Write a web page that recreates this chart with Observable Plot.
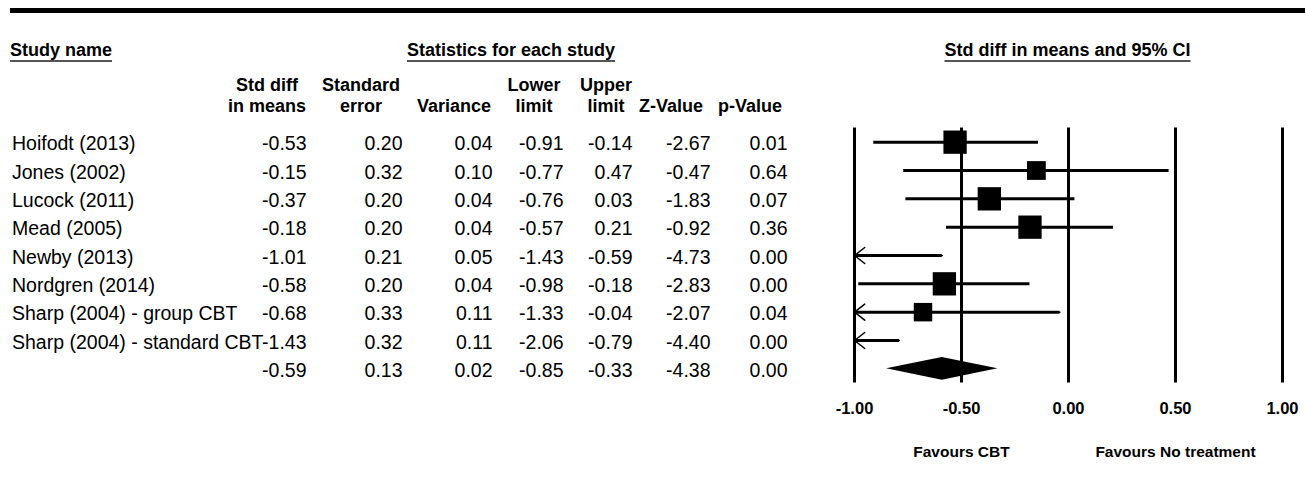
<!DOCTYPE html>
<html>
<head>
<meta charset="utf-8">
<script src="https://cdn.jsdelivr.net/npm/d3@7"></script>
<script src="https://cdn.jsdelivr.net/npm/@observablehq/plot@0.6"></script>
<style>
  body { margin: 0; background: #fff; }
  #wrap { position: relative; width: 1305px; height: 496px; font-family: Arial, "Liberation Sans", sans-serif; color: #000; background: #fff; overflow: hidden; }
  #head { position: relative; height: 118px; }
  .topline { position: absolute; left: 10px; top: 8px; width: 1295px; height: 5px; background: #000; }
  .grp { position: absolute; top: 40.8px; font-weight: bold; font-size: 18px; line-height: 18px; white-space: nowrap;
         text-decoration: underline; text-decoration-color: #555; text-decoration-thickness: 2px; text-underline-offset: 4px; }
  .col { position: absolute; top: 74.7px; font-weight: bold; font-size: 18px; line-height: 21.6px; white-space: nowrap;
         text-align: center; transform: translateX(-50%); }
  #chart svg { display: block; }
</style>
</head>
<body>
<div id="wrap">
  <div id="head"></div>
  <div id="chart"></div>
</div>
<script>
// ---- data ----
const studies = ["Hoifodt (2013)", "Jones (2002)", "Lucock (2011)", "Mead (2005)", "Newby (2013)",
                 "Nordgren (2014)", "Sharp (2004) - group CBT", "Sharp (2004) - standard CBT"];
const stdDiff  = [-0.53, -0.15, -0.37, -0.18, -1.01, -0.58, -0.68, -1.43];
const stdErr   = [0.20, 0.32, 0.20, 0.20, 0.21, 0.20, 0.33, 0.32];
const variance = [0.04, 0.10, 0.04, 0.04, 0.05, 0.04, 0.11, 0.11];
const lowerLim = [-0.91, -0.77, -0.76, -0.57, -1.43, -0.98, -1.33, -2.06];
const upperLim = [-0.14, 0.47, 0.03, 0.21, -0.59, -0.18, -0.04, -0.79];
const zValue   = [-2.67, -0.47, -1.83, -0.92, -4.73, -2.83, -2.07, -4.40];
const pValue   = [0.01, 0.64, 0.07, 0.36, 0.00, 0.00, 0.04, 0.00];
// relative weights (%) estimated from the square sizes
const relWeight = [14.5, 9.4, 14.5, 14.5, 14.0, 14.5, 9.1, 9.4];
// summary (overall) row
const summaryStats = [-0.59, 0.13, 0.02, -0.85, -0.33, -4.38, 0.00];
const xTicks = [-1, -0.5, 0, 0.5, 1];
const favourLabels = ["Favours CBT", "Favours No treatment"];
const favourAt = [-0.5, 0.5];
const groupHeaders = ["Study name", "Statistics for each study", "Std diff in means and 95% CI"];
const colHeaders = [["Std diff", "in means"], ["Standard", "error"], ["", "Variance"], ["Lower", "limit"],
                    ["Upper", "limit"], ["", "Z-Value"], ["", "p-Value"]];

// ---- layout (page pixels) ----
const colRight  = [306, 402, 492, 563, 632, 710, 787];
const colCenter = [267, 361, 454, 534, 606, 671, 750];
const grpPos = [{left: 10, center: false}, {left: 511, center: true}, {left: 1067.5, center: true}];

// ---- header (HTML) ----
const head = document.getElementById("head");
const tl = document.createElement("div"); tl.className = "topline"; head.appendChild(tl);
groupHeaders.forEach((t, i) => {
  const d = document.createElement("div");
  d.className = "grp"; d.textContent = t;
  d.style.left = grpPos[i].left + "px";
  if (grpPos[i].center) d.style.transform = "translateX(-50%)";
  head.appendChild(d);
});
colHeaders.forEach((lines, i) => {
  const d = document.createElement("div");
  d.className = "col";
  d.innerHTML = lines.map(l => l === "" ? "&nbsp;" : l).join("<br>");
  d.style.left = colCenter[i] + "px";
  head.appendChild(d);
});

// ---- table rows ----
const rows = studies.map((s, i) => ({
  row: i, name: s,
  vals: [stdDiff[i], stdErr[i], variance[i], lowerLim[i], upperLim[i], zValue[i], pValue[i]],
  est: stdDiff[i], lower: lowerLim[i], upper: upperLim[i], weight: relWeight[i]
}));
const summary = {row: studies.length, name: "", vals: summaryStats,
  est: summaryStats[0], lower: summaryStats[3], upper: summaryStats[4]};
const allRows = [...rows, summary];

const fmt = v => v.toFixed(2);
const xmin = xTicks[0], xmax = xTicks[xTicks.length - 1];

const textMarks = [
  Plot.text(allRows, {y: "row", frameAnchor: "left", dx: 11.5, dy: 2, textAnchor: "start",
                      text: "name", fontSize: 19.5})
];
colRight.forEach((r, j) => {
  textMarks.push(Plot.text(allRows, {y: "row", frameAnchor: "left", dx: r, dy: 2, textAnchor: "end",
                                     text: d => fmt(d.vals[j]), fontSize: 19.5}));
});

const halfH = 0.4; // diamond half-height in row units
const diamond = [
  {y: summary.row - halfH, x1: summary.est, x2: summary.est},
  {y: summary.row, x1: summary.lower, x2: summary.upper},
  {y: summary.row + halfH, x1: summary.est, x2: summary.est}
];

const clippedLeft = rows.filter(d => d.lower < xmin);
const inRange = rows.filter(d => d.est >= xmin && d.est <= xmax);

const plot = Plot.plot({
  width: 1305,
  height: 378,
  marginLeft: 0, marginRight: 0, marginTop: 9.5, marginBottom: 113.5,
  x: {domain: [xmin, xmax], range: [854, 1282], axis: null},
  y: {domain: [-0.5, studies.length + 0.5], range: [9.5, 264.5], axis: null},
  r: {type: "sqrt", domain: [0, 14.5], range: [0, 13.15]},
  style: {fontFamily: "Arial, 'Liberation Sans', sans-serif", background: "white", color: "black", overflow: "visible"},
  marks: [
    ...textMarks,
    Plot.ruleX(xTicks, {x: d => d, stroke: "black", strokeWidth: 3}),
    Plot.arrow(clippedLeft, {x1: d => Math.min(d.upper, xmax), x2: () => xmin, y1: "row", y2: "row",
                             stroke: "black", strokeWidth: 1.5, headLength: 13, headAngle: 76}),
    Plot.ruleY(rows, {y: "row", x1: d => Math.max(d.lower, xmin), x2: d => Math.min(d.upper, xmax),
                      stroke: "black", strokeWidth: 3}),
    Plot.dot(inRange, {x: "est", y: "row", r: "weight", symbol: "square", fill: "black"}),
    Plot.areaX(diamond, {y: "y", x1: "x1", x2: "x2", fill: "black"}),
    Plot.text(xTicks, {x: d => d, frameAnchor: "bottom", lineAnchor: "top", dy: 19,
                       text: d => d.toFixed(2), fontWeight: "bold", fontSize: 16.5}),
    Plot.text(favourLabels, {x: (d, i) => favourAt[i], frameAnchor: "bottom", lineAnchor: "top", dy: 63,
                             text: d => d, fontWeight: "bold", fontSize: 15.5})
  ]
});
document.getElementById("chart").appendChild(plot);
</script>
</body>
</html>
